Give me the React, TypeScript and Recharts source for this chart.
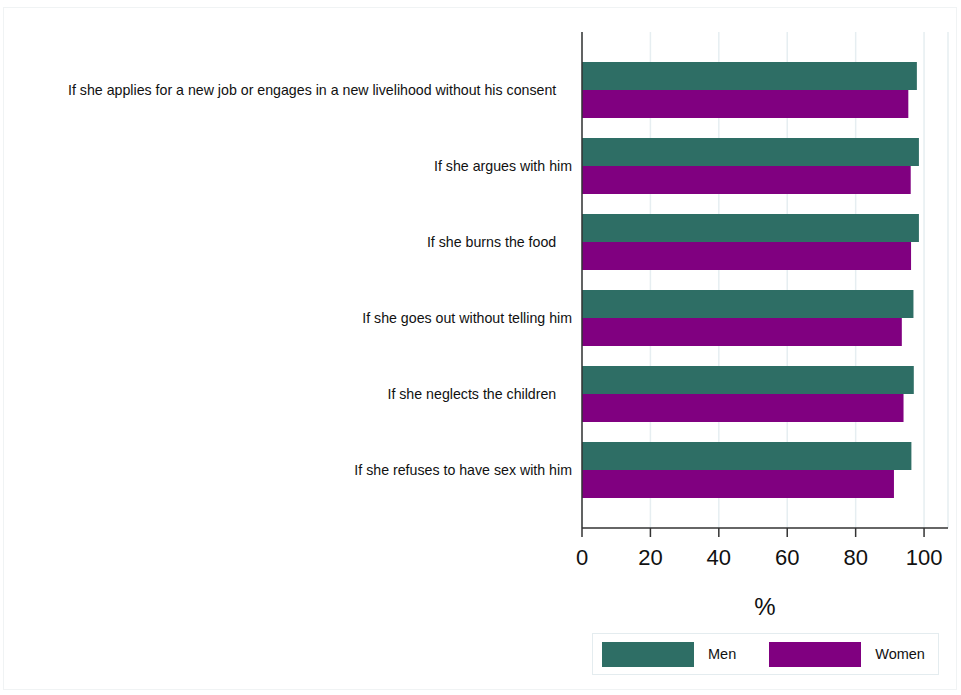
import React from 'react';
import { BarChart, Bar, XAxis, YAxis, CartesianGrid } from 'recharts';

const categories = [
  'If she applies for a new job or engages in a new livelihood without his consent    ',
  'If she argues with him',
  'If she burns the food    ',
  'If she goes out without telling him',
  'If she neglects the children    ',
  'If she refuses to have sex with him',
];
const menValues = [97.9, 98.5, 98.5, 96.9, 97.0, 96.3];
const womenValues = [95.4, 96.1, 96.2, 93.5, 94.0, 91.2];
const xTicks = [0, 20, 40, 60, 80, 100];

const colors = {
  men: '#2e6e65',
  women: '#800080',
  grid: '#e6eef1',
  axis: '#333333',
  text: '#111111',
} as const;

const data = categories.map((name, i) => ({ name, men: menValues[i], women: womenValues[i] }));

const CategoryTick = (props: any) => {
  const { x, y, payload } = props;
  return (
    <text
      x={x}
      y={y}
      textAnchor="end"
      dominantBaseline="central"
      fontSize={14.2}
      fill={colors.text}
      style={{ whiteSpace: 'pre' }}
    >
      {payload.value}
    </text>
  );
};

const LegendItem = ({ color, label }: { color: string; label: string }) => (
  <div style={{ display: 'flex', alignItems: 'center' }}>
    <div style={{ width: 92, height: 25, background: color }} />
    <span style={{ marginLeft: 14, fontSize: 14.5, color: colors.text }}>{label}</span>
  </div>
);

export default function App() {
  return (
    <div style={{ position: 'absolute', left: 0, top: 0, width: 961, height: 695, fontFamily: 'Liberation Sans, Arial, sans-serif', background: '#fff' }}>
      <div style={{ position: 'absolute', left: 3, top: 7, width: 952, height: 681, border: '1px solid #f0f3f4' }} />
      <BarChart
        width={961}
        height={695}
        data={data}
        layout="vertical"
        margin={{ top: 32, right: 13, bottom: 0, left: 0 }}
        barGap={0}
        barSize={28}
      >
        <CartesianGrid horizontal={false} stroke={colors.grid} strokeWidth={1.5} />
        <XAxis
          type="number"
          domain={[0, 107]}
          ticks={xTicks}
          height={167}
          tickSize={9}
          tickMargin={12}
          tick={{ fontSize: 22, fill: colors.text }}
          tickLine={{ stroke: colors.axis, strokeWidth: 1.5 }}
          axisLine={{ stroke: colors.axis, strokeWidth: 1.5 }}
          label={{ value: '%', position: 'insideTop', offset: 70, fontSize: 24, fill: colors.text }}
        />
        <YAxis
          type="category"
          dataKey="name"
          width={582}
          padding={{ top: 20, bottom: 20 }}
          tickLine={false}
          tickSize={0}
          tickMargin={10}
          tick={<CategoryTick />}
          axisLine={{ stroke: colors.axis, strokeWidth: 1.5 }}
        />
        <Bar dataKey="men" name="Men" fill={colors.men} isAnimationActive={false} />
        <Bar dataKey="women" name="Women" fill={colors.women} isAnimationActive={false} />
      </BarChart>
      <div
        style={{
          position: 'absolute',
          left: 592,
          top: 633,
          width: 347,
          height: 42,
          border: '1px solid #e4ecef',
          display: 'flex',
          alignItems: 'center',
          paddingLeft: 9,
          boxSizing: 'border-box',
          gap: 33,
        }}
      >
        <LegendItem color={colors.men} label="Men" />
        <LegendItem color={colors.women} label="Women" />
      </div>
    </div>
  );
}
